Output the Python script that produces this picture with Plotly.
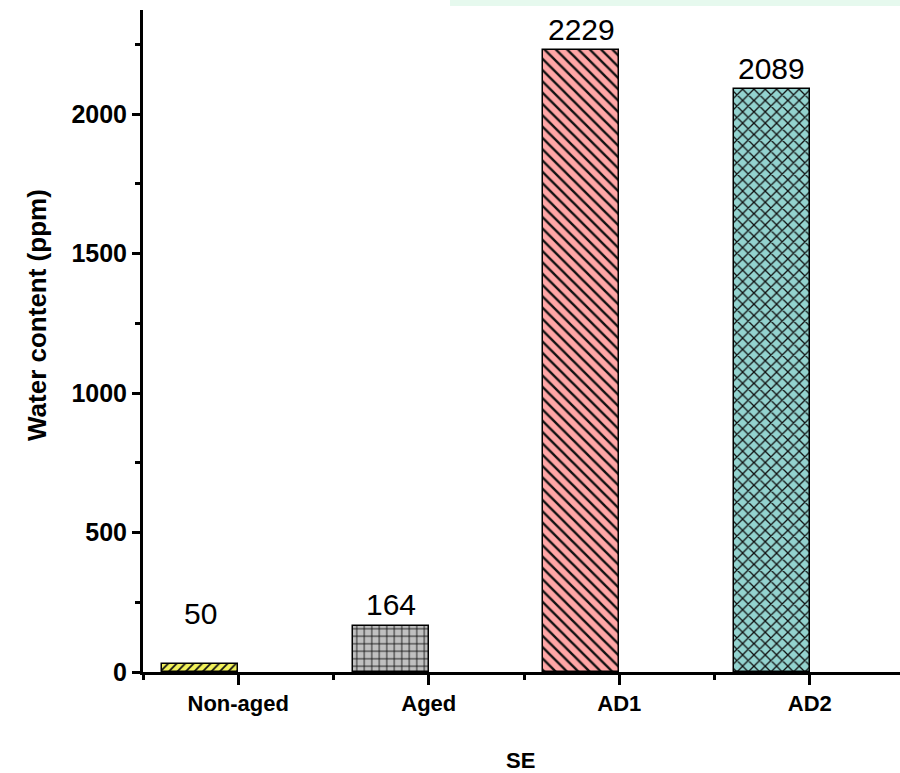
import plotly.graph_objects as go

categories = ["Non-aged", "Aged", "AD1", "AD2"]
positions = [1, 2, 3, 4]
bar_values = [30, 164, 2229, 2089]
bar_labels = ["50", "164", "2229", "2089"]
y_tick_vals = [0, 500, 1000, 1500, 2000]

fill_colors = ["#f2f25a", "#c0c0c0", "#ffa6a6", "#93d3cf"]
pattern_shapes = ["/", "+", "\\", "x"]
pattern_sizes = [6, 7.5, 8, 8]
pattern_solid = [0.3, 0.22, 0.3, 0.3]
label_shift = [32, 3, 2, 2]

fig = go.Figure()
for i in range(len(categories)):
    fig.add_trace(go.Bar(
        x=[positions[i]], y=[bar_values[i]],
        width=0.4, offset=-0.4,
        marker=dict(
            color=fill_colors[i],
            line=dict(color="black", width=1.5),
            pattern=dict(shape=pattern_shapes[i], fgcolor="#111111",
                         bgcolor=fill_colors[i], size=pattern_sizes[i],
                         solidity=pattern_solid[i], fillmode="replace"),
        ),
        showlegend=False, hoverinfo="skip",
    ))
    fig.add_annotation(
        x=positions[i] - 0.2, y=bar_values[i], text=bar_labels[i],
        showarrow=False, xanchor="center", yanchor="bottom",
        yshift=label_shift[i],
        font=dict(size=30, color="black", family="Liberation Sans, Arial"),
    )

# axis titles
fig.add_annotation(xref="paper", yref="paper", x=(37 - 143) / 757, y=(672 - 315) / 662,
                   text="Water content (ppm)", textangle=-90, showarrow=False,
                   xanchor="center", yanchor="middle",
                   font=dict(size=26, weight="bold", color="black"))
fig.add_annotation(xref="paper", yref="paper", x=(520 - 143) / 757, y=(672 - 760) / 662,
                   text="SE", showarrow=False, xanchor="center", yanchor="middle",
                   font=dict(size=22, weight="bold", color="black"))

# faint watermark strip at top
fig.add_shape(type="rect", xref="paper", yref="paper",
              x0=(450 - 143) / 757, x1=1.0, y0=1 + 4 / 662, y1=1 + 10 / 662,
              fillcolor="#e6f9ee", line=dict(width=0), layer="below")

fig.update_layout(
    width=900, height=773,
    margin=dict(l=143, r=0, t=10, b=101, pad=0),
    paper_bgcolor="white", plot_bgcolor="white",
    font=dict(family="Liberation Sans, Arial", color="black"),
    bargap=0,
)
fig.update_xaxes(
    range=[0.5, 0.5 + 757 / 190.5], automargin=False,
    tickvals=positions, ticktext=categories,
    showline=True, linewidth=3, linecolor="black",
    ticks="outside", ticklen=10, tickwidth=3, tickcolor="black",
    minor=dict(tickvals=[0.5, 1.5, 2.5, 3.5, 4.5], ticklen=5, tickwidth=3,
               tickcolor="black", ticks="outside"),
    tickfont=dict(size=22, weight="bold"),
    showgrid=False, zeroline=False,
)
fig.update_yaxes(
    range=[0, 2373], automargin=False,
    tickvals=y_tick_vals,
    showline=True, linewidth=3, linecolor="black",
    ticks="outside", ticklen=8, tickwidth=3, tickcolor="black",
    minor=dict(dtick=250, ticklen=5, tickwidth=3, tickcolor="black", ticks="outside"),
    tickfont=dict(size=25, weight="bold"),
    showgrid=False, zeroline=False,
)

fig.write_html("out.html", config={"displayModeBar": False},
               post_script="document.body.style.margin='0';document.body.style.overflow='hidden';")
